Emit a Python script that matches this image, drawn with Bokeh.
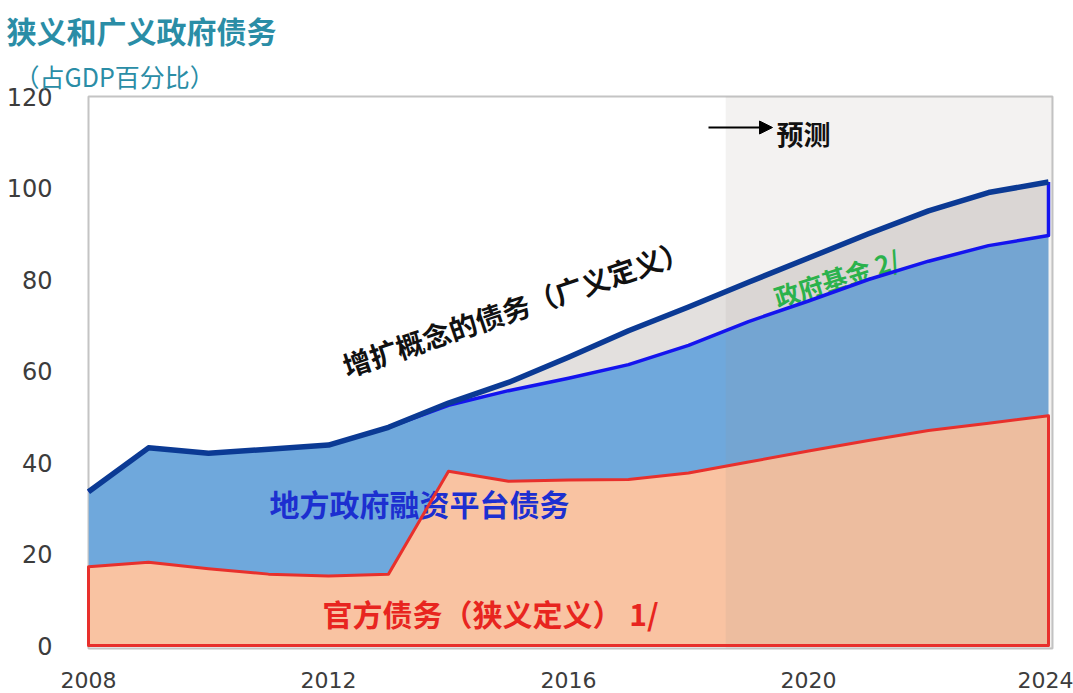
import numpy as np
from bokeh.plotting import figure
from bokeh.models import Range1d, FixedTicker, Label, Arrow, NormalHead, BoxAnnotation, Title
from bokeh.embed import file_html
from bokeh.resources import INLINE

# ---- data (% of GDP) ----
years = list(range(2008, 2025))
official_debt = [17.2, 18.2, 16.8, 15.6, 15.2, 15.6, 38.1, 35.9, 36.2, 36.3, 37.7,
                 40.1, 42.5, 44.8, 47.0, 48.6, 50.2]
lgfv_debt = [16.4, 25.0, 25.2, 27.3, 28.6, 32.1, 14.4, 19.8, 22.2, 25.1, 27.9,
             30.7, 32.8, 35.2, 37.0, 38.8, 39.4]
gov_funds = [0.0, 0.0, 0.0, 0.0, 0.0, 0.0, 0.5, 1.8, 4.6, 7.4, 8.4,
             8.6, 9.4, 10.0, 11.0, 11.6, 11.7]
forecast_start = 2018.62
y_ticks = [0, 20, 40, 60, 80, 100, 120]
x_ticks = [2008, 2012, 2016, 2020, 2024]

title_text = "狭义和广义政府债务"
subtitle_text = "（占GDP百分比）"
label_broad = "增扩概念的债务（广义定义）"
label_funds = "政府基金 2/"
label_lgfv = "地方政府融资平台债务"
label_official = "官方债务（狭义定义） 1/"
label_forecast = "预测"

# ---- cumulative levels ----
s1 = np.array(official_debt)
s2 = s1 + np.array(lgfv_debt)
s3 = s2 + np.array(gov_funds)

# ---- geometry ----
W, H = 1073, 693
F_LEFT, F_RIGHT, F_TOP, F_BOTTOM = 88, 1052, 96, 648
PX_PER_YEAR = 60.0
PX_PER_UNIT = 4.575
Y0_PIX = 645

x_start = years[0]
x_end = years[0] + (F_RIGHT - F_LEFT) / PX_PER_YEAR
y_start = -(F_BOTTOM - Y0_PIX) / PX_PER_UNIT
y_end = 120


def dx(px):
    return years[0] + (px - F_LEFT) / PX_PER_YEAR


def dy(py):
    return (Y0_PIX - py) / PX_PER_UNIT


p = figure(width=W, height=H, output_backend="svg", toolbar_location=None,
           x_range=Range1d(x_start, x_end), y_range=Range1d(y_start, y_end),
           min_border_left=F_LEFT, min_border_right=W - F_RIGHT,
           min_border_top=F_TOP, min_border_bottom=H - F_BOTTOM, title=None)
p.background_fill_color = "white"
p.border_fill_color = "white"
p.outline_line_color = "#c4c4c4"
p.outline_line_width = 2
p.grid.visible = False

CJK = "Noto Sans CJK SC"

# titles (subtitle nearest to the frame)
p.add_layout(Title(text=subtitle_text, align="left", offset=-(F_LEFT - 14),
                   text_font=CJK, text_font_size="25px", text_font_style="normal",
                   text_color="#2a8da6", standoff=6), "above")
p.add_layout(Title(text=title_text, align="left", offset=-(F_LEFT - 6),
                   text_font=CJK, text_font_size="30px", text_font_style="bold",
                   text_color="#2a8da6", standoff=2), "above")

# fills
xs_poly = [years[0]] + years + [years[-1]]
p.patch(xs_poly, [0] + list(s1) + [0], fill_color="#f9c3a2", line_color=None)
p.varea(x=years, y1=s1, y2=s2, fill_color="#6fa8dc")
p.varea(x=years, y1=s2, y2=s3, fill_color="#e3e0de")

# forecast shading
p.add_layout(BoxAnnotation(left=forecast_start, fill_color="#9a968c", fill_alpha=0.12,
                           line_color=None))

# outlines / lines (above shading)
r = p.patch(xs_poly + [years[0]], [0] + list(s1) + [0, 0], fill_alpha=0,
            line_color="#e8302c", line_width=3, line_join="round")
r.level = "overlay"
r = p.line(years + [years[-1]], list(s2) + [s3[-1]], line_color="#1414ee",
           line_width=3.5, line_join="round")
r.level = "overlay"
r = p.line(years, s3, line_color="#0b3a94", line_width=5.5, line_join="round")
r.level = "overlay"

# axes
for ax in (p.xaxis[0], p.yaxis[0]):
    ax.axis_line_color = None
    ax.major_tick_line_color = None
    ax.minor_tick_line_color = None
    ax.major_label_text_color = "#3c3c3c"
    ax.major_label_text_font = "DejaVu Sans"
p.yaxis.ticker = FixedTicker(ticks=y_ticks)
p.xaxis.ticker = FixedTicker(ticks=x_ticks)
p.yaxis.major_label_text_font_size = "24px"
p.xaxis.major_label_text_font_size = "22px"
p.yaxis.major_label_standoff = 30
p.xaxis.major_label_standoff = 17


def add_label(text, px, py, size, color, bold=True, angle=0.0, align="center"):
    p.add_layout(Label(x=dx(px), y=dy(py), text=text, angle=angle,
                       text_align=align, text_baseline="middle",
                       text_font=CJK, text_font_size=size,
                       text_font_style="bold" if bold else "normal",
                       text_color=color))

add_label(label_broad, 515, 307, "28px", "#111111", angle=0.33)
add_label(label_funds, 836, 277, "25px", "#2bb24c", angle=0.31)
add_label(label_lgfv, 419, 502, "30px", "#1c2fd0")
add_label(label_official, 490, 612, "30px", "#e8251f")
add_label(label_forecast, 776, 133, "27px", "#111111", align="left")

p.add_layout(Arrow(x_start=dx(708), y_start=dy(127), x_end=dx(772), y_end=dy(127),
                   line_width=2, line_color="black",
                   end=NormalHead(size=13, fill_color="black", line_color="black")))

open("out.html", "w").write(file_html(p, INLINE))
